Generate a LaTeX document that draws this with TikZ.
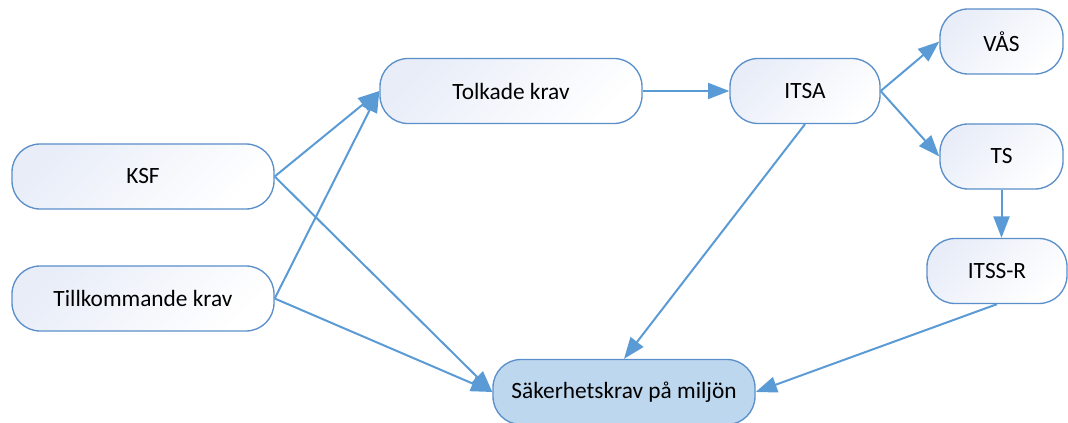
\documentclass[tikz,border=0pt]{standalone}
\usepackage{fontspec}
\setmainfont{Carlito}
\usetikzlibrary{arrows.meta,positioning}
\definecolor{boxline}{HTML}{5A8FC9}
\definecolor{boxtop}{HTML}{E8EDF8}
\definecolor{flowline}{HTML}{5B9BD5}
\definecolor{envfill}{HTML}{BDD7EE}

\begin{document}
\begin{tikzpicture}[
    x=0.75pt, y=-0.75pt,
    basebox/.style={draw=boxline, line width=1pt, rectangle, rounded corners=21pt,
        minimum width=196.5pt, minimum height=48.75pt,
        font=\fontsize{17.5}{20}\selectfont},
    reqbox/.style={basebox, top color=boxtop, bottom color=white, shading angle=45},
    envbox/.style={basebox, fill=envfill},
    flow/.style={-{Triangle[length=16pt, width=12pt]}, line width=1.5pt, draw=flowline}
]
    \useasboundingbox (0,0) rectangle (1068,423);

    % Sources
    \node[reqbox] (ksf) at (143,176.5) {KSF};
    \node[reqbox] (till) at (143,298.5) {Tillkommande krav};

    % Upper chain
    \node[reqbox] (tolk) at (511,91) {Tolkade krav};
    \node[reqbox, minimum width=112.5pt] (itsa) at (805,91) {ITSA};
    \node[reqbox, minimum width=92.25pt] (vas) at (1001.5,41.5) {VÅS};
    \node[reqbox, minimum width=92.25pt] (ts) at (1001.5,156.5) {TS};
    \node[reqbox, minimum width=105pt] (itssr) at (997,271) {ITSS-R};

    % Result
    \node[envbox] (sak) at (624,392) {Säkerhetskrav på miljön};

    % Links
    \draw[flow] (ksf.east) -- (tolk.west);
    \draw[flow] (till.east) -- (tolk.west);
    \draw[flow] (ksf.east) -- (sak.west);
    \draw[flow] (till.east) -- (sak.west);

    \draw[flow] (tolk.east) -- (itsa.west);
    \draw[flow] (itsa.south) -- (sak.north);
    \draw[flow] (itsa.east) -- (vas.west);
    \draw[flow] (itsa.east) -- (ts.west);
    \draw[flow] (ts.south) -- (ts.south |- itssr.north);
    \draw[flow] (itssr.south) -- (sak.east);
\end{tikzpicture}
\end{document}
